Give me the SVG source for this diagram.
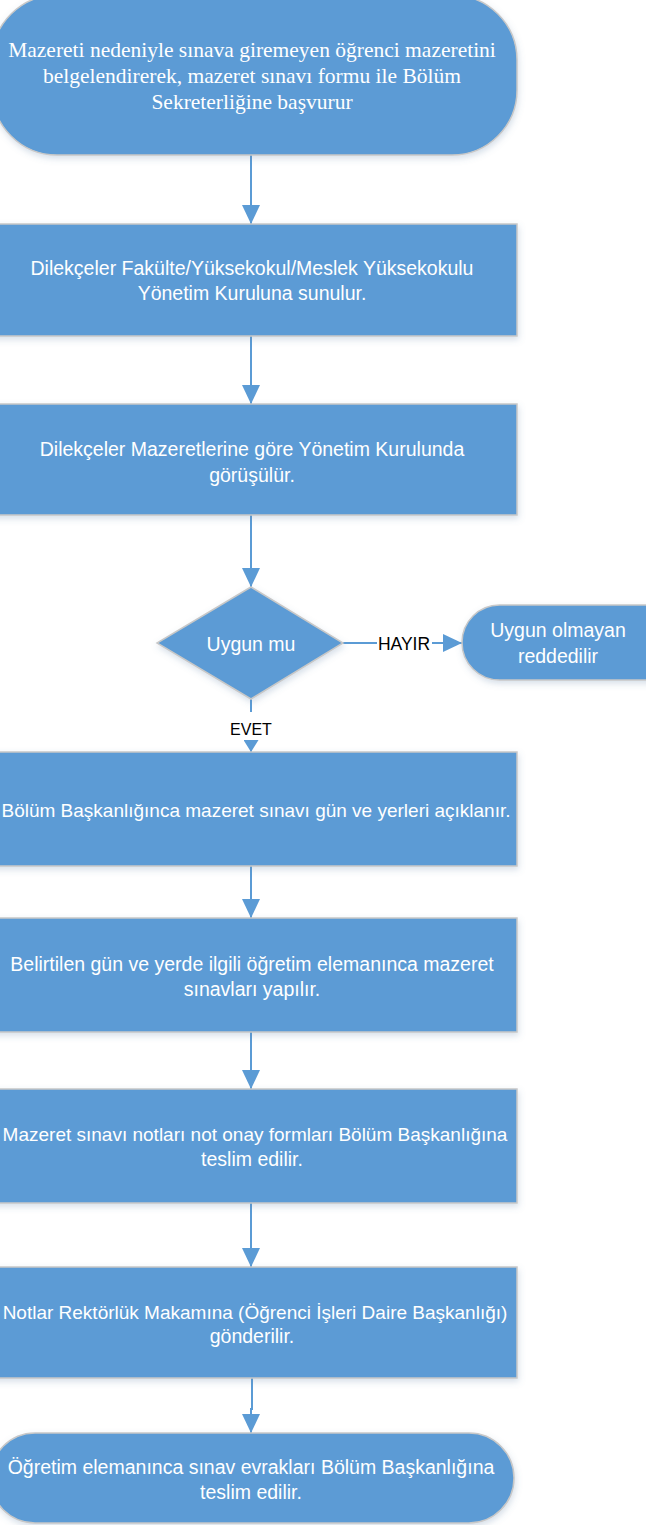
<svg xmlns="http://www.w3.org/2000/svg" width="646" height="1525" viewBox="0 0 646 1525">
<style>
.shape{fill:#5B9BD5;stroke:#C8C8C8;stroke-width:1.5;filter:url(#sh)}
.t{font-family:"Liberation Sans",Arial,sans-serif;font-size:19.5px;fill:#FFFFFF;text-anchor:middle}
.tw{font-family:"Liberation Sans",Arial,sans-serif;font-size:19px;fill:#FFFFFF;text-anchor:middle}
.ts{font-family:"Liberation Serif","Times New Roman",serif;font-size:21.5px;fill:#FFFFFF;text-anchor:middle}
.lbl{font-family:"Liberation Sans",Arial,sans-serif;font-size:16px;fill:#000000;text-anchor:middle}
.c{fill:none;stroke:#5B9BD5;stroke-width:2}
</style>
<defs>
<filter id="sh" x="-10%" y="-10%" width="120%" height="130%">
<feDropShadow dx="1" dy="3" stdDeviation="3" flood-color="#5B7FA8" flood-opacity="0.25"/>
</filter>
<marker id="arr" markerUnits="userSpaceOnUse" markerWidth="19" markerHeight="18" viewBox="0 0 19 18" refX="19" refY="9" orient="auto">
<path d="M0,0 L19,9 L0,18 z" fill="#5B9BD5"/>
</marker>
<marker id="arrS" markerUnits="userSpaceOnUse" markerWidth="12" markerHeight="15" viewBox="0 0 12 15" refX="12" refY="7.5" orient="auto">
<path d="M0,0 L12,7.5 L0,15 z" fill="#5B9BD5"/>
</marker>
</defs>

<g id="connectors">
<path class="c" d="M251,155 V224" marker-end="url(#arr)"/>
<path class="c" d="M251,336 V404" marker-end="url(#arr)"/>
<path class="c" d="M251,515 V587" marker-end="url(#arr)"/>
<path class="c" d="M251,699 V712"/>
<path class="c" d="M251,740 V752" marker-end="url(#arrS)"/>
<path class="c" d="M343,643 H462" marker-end="url(#arr)"/>
<path class="c" d="M251,866 V918" marker-end="url(#arr)"/>
<path class="c" d="M251,1032 V1089" marker-end="url(#arr)"/>
<path class="c" d="M251,1203 V1267" marker-end="url(#arr)"/>
<path class="c" d="M252,1378 V1409 H251 V1433" marker-end="url(#arr)"/>
<rect x="377" y="633" width="55" height="20" fill="#FFFFFF"/>
<text class="lbl" x="404" y="650" style="font-size:17.5px">HAYIR</text>
<text class="lbl" x="251" y="735">EVET</text>
</g>

<g id="start">
<rect class="shape" x="-8" y="-5" width="525" height="160" rx="65" ry="65"/>
<text class="ts" x="252" y="57">Mazereti nedeniyle sınava giremeyen öğrenci mazeretini</text>
<text class="ts" x="252" y="83">belgelendirerek, mazeret sınavı formu ile Bölüm</text>
<text class="ts" x="252" y="109">Sekreterliğine başvurur</text>
</g>

<g id="box1">
<rect class="shape" x="-13" y="224" width="530" height="112"/>
<text class="t" x="252" y="275">Dilekçeler Fakülte/Yüksekokul/Meslek Yüksekokulu</text>
<text class="t" x="252" y="300">Yönetim Kuruluna sunulur.</text>
</g>

<g id="box2">
<rect class="shape" x="-13" y="404" width="530" height="111"/>
<text class="t" x="252" y="456">Dilekçeler Mazeretlerine göre Yönetim Kurulunda</text>
<text class="t" x="252" y="482">görüşülür.</text>
</g>

<g id="decision">
<polygon class="shape" points="251,587 343,643 251,699 157,643"/>
<text class="t" x="251" y="651">Uygun mu</text>
</g>

<g id="reject">
<rect class="shape" x="462" y="605" width="222" height="75" rx="37.5" ry="37.5"/>
<text class="t" x="558" y="637">Uygun olmayan</text>
<text class="t" x="558" y="663">reddedilir</text>
</g>

<g id="box3">
<rect class="shape" x="-13" y="752" width="530" height="114"/>
<text class="tw" x="256" y="817">Bölüm Başkanlığınca mazeret sınavı gün ve yerleri açıklanır.</text>
</g>

<g id="box4">
<rect class="shape" x="-13" y="918" width="530" height="114"/>
<text class="t" x="252" y="971">Belirtilen gün ve yerde ilgili öğretim elemanınca mazeret</text>
<text class="t" x="252" y="996">sınavları yapılır.</text>
</g>

<g id="box5">
<rect class="shape" x="-13" y="1089" width="530" height="114"/>
<text class="tw" x="255" y="1141">Mazeret sınavı notları not onay formları Bölüm Başkanlığına</text>
<text class="t" x="252" y="1166">teslim edilir.</text>
</g>

<g id="box6">
<rect class="shape" x="-13" y="1267" width="530" height="111"/>
<text class="tw" x="255" y="1319">Notlar Rektörlük Makamına (Öğrenci İşleri Daire Başkanlığı)</text>
<text class="t" x="252" y="1343">gönderilir.</text>
</g>

<g id="end">
<rect class="shape" x="-10" y="1433" width="524" height="90" rx="45" ry="45"/>
<text class="t" x="251" y="1474">Öğretim elemanınca sınav evrakları Bölüm Başkanlığına</text>
<text class="t" x="251" y="1499">teslim edilir.</text>
</g>
</svg>
